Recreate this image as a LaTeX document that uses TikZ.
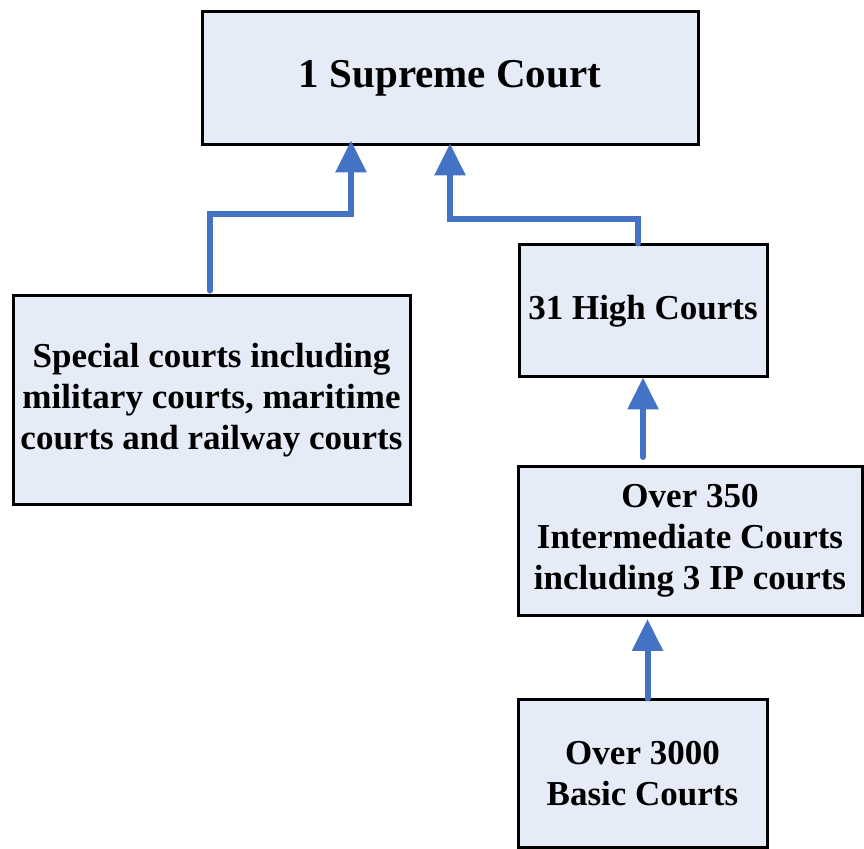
\documentclass[tikz,border=0pt]{standalone}
\usepackage{fontspec}
\setmainfont{Liberation Serif}
\usetikzlibrary{arrows.meta,calc}
\definecolor{boxfill}{HTML}{E6ECF7}
\definecolor{arrblue}{HTML}{4472C4}
\begin{document}
\begin{tikzpicture}[x=1pt,y=1pt,
  court/.style={draw=black, line width=3pt, fill=boxfill, inner sep=0pt,
    align=center, font=\bfseries\fontsize{35}{41}\selectfont},
  arr/.style={draw=arrblue, line width=6pt, line cap=round,
    -{Triangle[width=30pt,length=32pt]}}]
\useasboundingbox (0,0) rectangle (864,848);
\node[court, minimum width=496pt, minimum height=133pt,
  font=\bfseries\fontsize{41}{47}\selectfont] (sup) at (450,769.5) {\raisebox{-3pt}{1 Supreme Court}};
\node[court, minimum width=397pt, minimum height=209pt] (spec) at (211.5,447.5)
  {Special courts including\\military courts, maritime\\courts and railway courts};
\node[court, minimum width=248pt, minimum height=132pt] (high) at (643,537) {\raisebox{-2pt}{31 High Courts}};
\node[court, minimum width=344pt, minimum height=149pt] (inter) at (690,307)
  {Over 350\\Intermediate Courts\\including 3 IP courts};
\node[court, minimum width=249pt, minimum height=147pt] (basic) at (642.5,74.5)
  {Over 3000\\Basic Courts};
\draw[arr] ([xshift=-1.5pt,yshift=4pt]spec.north) |- ($(sup.south)+(-99,-68)$) -- ([xshift=-99pt,yshift=6pt]sup.south);
\draw[arr] ([xshift=-5pt]high.north) |- ($(sup.south)+(0,-73)$) -- ([yshift=3pt]sup.south);
\draw[arr] ([yshift=8pt]high.south |- inter.north) -- ([yshift=1pt]high.south);
\draw[arr] ([xshift=5pt]basic.north) -- ([xshift=5pt,yshift=-2pt]basic.north |- inter.south);
\end{tikzpicture}
\end{document}
